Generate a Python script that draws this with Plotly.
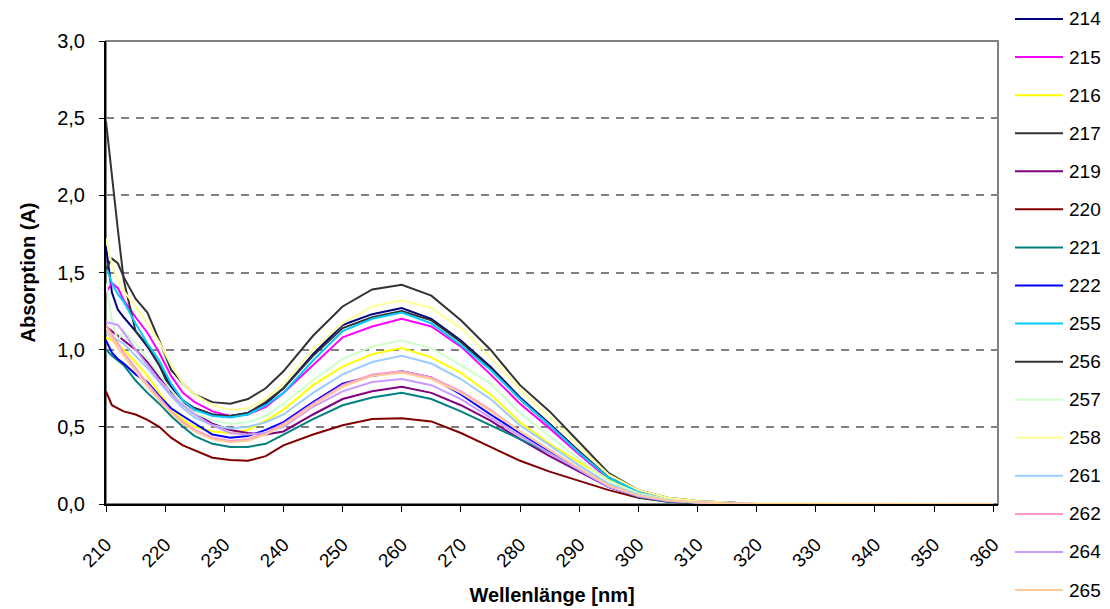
import plotly.graph_objects as go

# Wavelength grid (nm)
wavelength = [210, 211, 212, 213, 215, 217, 219, 221, 223, 225, 228, 231, 234, 237, 240,
              245, 250, 255, 260, 265, 270, 275, 280, 285, 290, 295, 300, 305, 310, 315,
              320, 360]

# Absorbance of each sample
a214 = [1.67, 1.37, 1.26, 1.21, 1.12, 1.02, 0.90, 0.76, 0.67, 0.62, 0.58, 0.57, 0.59, 0.65, 0.75,
        0.97, 1.16, 1.23, 1.27, 1.20, 1.06, 0.89, 0.69, 0.52, 0.34, 0.17, 0.08, 0.035, 0.015, 0.01, 0.0, 0.0]
a215 = [1.37, 1.43, 1.40, 1.32, 1.21, 1.11, 0.98, 0.83, 0.72, 0.66, 0.60, 0.57, 0.58, 0.63, 0.72,
        0.90, 1.08, 1.15, 1.20, 1.15, 1.02, 0.84, 0.65, 0.49, 0.32, 0.16, 0.075, 0.03, 0.015, 0.01, 0.0, 0.0]
a216 = [1.08, 1.06, 1.04, 1.00, 0.92, 0.83, 0.72, 0.62, 0.545, 0.50, 0.47, 0.46, 0.48, 0.54, 0.61,
        0.77, 0.89, 0.97, 1.01, 0.95, 0.85, 0.71, 0.53, 0.39, 0.27, 0.16, 0.07, 0.025, 0.01, 0.005, 0.0, 0.0]
a217 = [2.48, 2.12, 1.78, 1.45, 1.12, 1.03, 0.90, 0.73, 0.66, 0.62, 0.58, 0.57, 0.59, 0.66, 0.75,
        0.96, 1.14, 1.21, 1.25, 1.19, 1.05, 0.88, 0.68, 0.51, 0.34, 0.17, 0.08, 0.035, 0.015, 0.01, 0.0, 0.0]
a219 = [1.15, 1.12, 1.09, 1.06, 1.00, 0.92, 0.82, 0.74, 0.66, 0.59, 0.52, 0.48, 0.46, 0.45, 0.47,
        0.58, 0.68, 0.73, 0.76, 0.72, 0.64, 0.54, 0.42, 0.31, 0.21, 0.11, 0.05, 0.02, 0.01, 0.005, 0.0, 0.0]
a220 = [0.73, 0.64, 0.62, 0.60, 0.58, 0.545, 0.50, 0.43, 0.38, 0.35, 0.30, 0.285, 0.28, 0.31, 0.38,
        0.45, 0.51, 0.55, 0.555, 0.535, 0.46, 0.37, 0.28, 0.21, 0.15, 0.09, 0.04, 0.015, 0.005, 0.0, 0.0, 0.0]
a221 = [1.00, 0.96, 0.93, 0.90, 0.80, 0.72, 0.65, 0.57, 0.50, 0.44, 0.39, 0.37, 0.37, 0.39, 0.45,
        0.55, 0.64, 0.69, 0.72, 0.68, 0.60, 0.51, 0.42, 0.33, 0.22, 0.12, 0.045, 0.015, 0.005, 0.0, 0.0, 0.0]
a222 = [1.06, 0.98, 0.94, 0.91, 0.84, 0.79, 0.70, 0.62, 0.57, 0.52, 0.45, 0.43, 0.44, 0.48, 0.53,
        0.66, 0.78, 0.83, 0.86, 0.82, 0.71, 0.58, 0.46, 0.34, 0.22, 0.11, 0.05, 0.02, 0.01, 0.005, 0.0, 0.0]
a255 = [1.54, 1.43, 1.36, 1.31, 1.17, 1.04, 0.93, 0.78, 0.67, 0.61, 0.57, 0.56, 0.58, 0.64, 0.72,
        0.93, 1.12, 1.20, 1.24, 1.17, 1.03, 0.87, 0.68, 0.51, 0.33, 0.17, 0.08, 0.035, 0.015, 0.01, 0.0, 0.0]
a256 = [1.52, 1.59, 1.56, 1.47, 1.33, 1.24, 1.06, 0.87, 0.78, 0.71, 0.66, 0.65, 0.68, 0.75, 0.86,
        1.09, 1.28, 1.39, 1.42, 1.35, 1.19, 1.00, 0.77, 0.60, 0.40, 0.20, 0.09, 0.04, 0.02, 0.01, 0.0, 0.0]
a257 = [1.43, 1.19, 1.06, 1.12, 1.04, 0.94, 0.84, 0.74, 0.65, 0.59, 0.54, 0.52, 0.53, 0.57, 0.65,
        0.80, 0.94, 1.02, 1.06, 1.01, 0.90, 0.78, 0.59, 0.44, 0.29, 0.15, 0.07, 0.03, 0.015, 0.01, 0.0, 0.0]
a258 = [1.72, 1.55, 1.45, 1.38, 1.28, 1.17, 1.05, 0.90, 0.78, 0.71, 0.64, 0.61, 0.62, 0.68, 0.78,
        1.00, 1.17, 1.28, 1.32, 1.27, 1.14, 0.95, 0.74, 0.56, 0.37, 0.19, 0.09, 0.04, 0.02, 0.01, 0.005, 0.0]
a261 = [1.11, 1.08, 1.06, 1.04, 0.96, 0.88, 0.79, 0.70, 0.62, 0.56, 0.51, 0.49, 0.50, 0.53, 0.58,
        0.72, 0.84, 0.92, 0.96, 0.91, 0.81, 0.68, 0.51, 0.38, 0.25, 0.13, 0.06, 0.025, 0.01, 0.005, 0.0, 0.0]
a262 = [1.16, 1.10, 1.04, 0.98, 0.88, 0.78, 0.69, 0.60, 0.53, 0.48, 0.43, 0.41, 0.42, 0.46, 0.52,
        0.65, 0.77, 0.84, 0.86, 0.82, 0.73, 0.61, 0.47, 0.35, 0.23, 0.12, 0.055, 0.02, 0.01, 0.005, 0.0, 0.0]
a264 = [1.18, 1.17, 1.16, 1.11, 1.00, 0.90, 0.80, 0.71, 0.64, 0.58, 0.51, 0.46, 0.45, 0.46, 0.50,
        0.63, 0.73, 0.79, 0.81, 0.77, 0.68, 0.56, 0.44, 0.33, 0.22, 0.11, 0.05, 0.02, 0.01, 0.005, 0.0, 0.0]
a265 = [1.14, 1.07, 1.01, 0.96, 0.86, 0.76, 0.67, 0.59, 0.52, 0.47, 0.42, 0.40, 0.41, 0.45, 0.51,
        0.64, 0.76, 0.83, 0.85, 0.81, 0.72, 0.60, 0.47, 0.35, 0.23, 0.12, 0.055, 0.025, 0.01, 0.005, 0.0, 0.0]

sample_names = ["214", "215", "216", "217", "219", "220", "221", "222",
                "255", "256", "257", "258", "261", "262", "264", "265"]
sample_values = [a214, a215, a216, a217, a219, a220, a221, a222,
                 a255, a256, a257, a258, a261, a262, a264, a265]
sample_colors = ["#000080", "#FF00FF", "#FFFF00", "#333333", "#800080", "#800000",
                 "#008080", "#0000FF", "#00CCFF", "#333333", "#CCFFCC", "#FFFF99",
                 "#99CCFF", "#FF99CC", "#CC99FF", "#FFCC99"]

FONT = "Arial, Liberation Sans, sans-serif"

W, H = 1110, 609
ML, MR, MT, MB = 106, 112, 41, 105
PW, PH = W - ML - MR, H - MT - MB


def px_x(px):
    return (px - ML) / PW


def px_y(py):
    return (H - MB - py) / PH


fig = go.Figure()
for name, vals, col in zip(sample_names, sample_values, sample_colors):
    fig.add_trace(go.Scatter(
        x=wavelength, y=vals, name=name,
        mode="lines", line=dict(color=col, width=2), showlegend=False,
    ))

# grey frame around the plot area (top and right edges)
fig.add_shape(type="rect", xref="paper", yref="paper", x0=0, x1=1, y0=0, y1=1,
              line=dict(color="#808080", width=2), layer="below")

# series key down the right-hand side
row0, row_step = 19, 38.07
for i, (name, col) in enumerate(zip(sample_names, sample_colors)):
    yy = px_y(row0 + i * row_step)
    fig.add_shape(type="line", xref="paper", yref="paper",
                  x0=px_x(1015), x1=px_x(1063), y0=yy, y1=yy,
                  line=dict(color=col, width=2))
    fig.add_annotation(xref="paper", yref="paper", x=px_x(1067), y=yy,
                       text=name, showarrow=False, xanchor="left", yanchor="middle",
                       font=dict(family=FONT, size=19, color="black"))

fig.update_layout(
    width=W, height=H,
    margin=dict(l=ML, r=MR, t=MT, b=MB),
    paper_bgcolor="white", plot_bgcolor="white",
    separators=", ",
    font=dict(family=FONT, size=19, color="black"),
    showlegend=False,
    xaxis=dict(
        range=[210, 360.8], tick0=210, dtick=10, automargin=False,
        showgrid=False, zeroline=False, layer="below traces",
        showline=True, linecolor="black", linewidth=2,
        ticks="outside", ticklen=6, tickcolor="black", tickwidth=1,
        ticklabelstandoff=14,
        tickangle=-45, tickfont=dict(family=FONT, size=19, color="black"),
        title=dict(text="<b>Wellenlänge [nm]</b>", standoff=18,
                   font=dict(family=FONT, size=20, color="black")),
    ),
    yaxis=dict(
        range=[0, 3.0], tick0=0, dtick=0.5, tickformat=".1f", automargin=False,
        showgrid=True, gridcolor="#808080", gridwidth=1.5, griddash="8px,7px",
        zeroline=False,
        showline=True, linecolor="black", linewidth=2,
        ticks="outside", ticklen=5, tickcolor="black", tickwidth=1,
        ticklabelstandoff=10,
        tickfont=dict(family=FONT, size=20, color="black"),
        title=dict(text="<b>Absorption (A)</b>", standoff=16,
                   font=dict(family=FONT, size=20, color="black")),
    ),
)

fig.write_html("out.html")
